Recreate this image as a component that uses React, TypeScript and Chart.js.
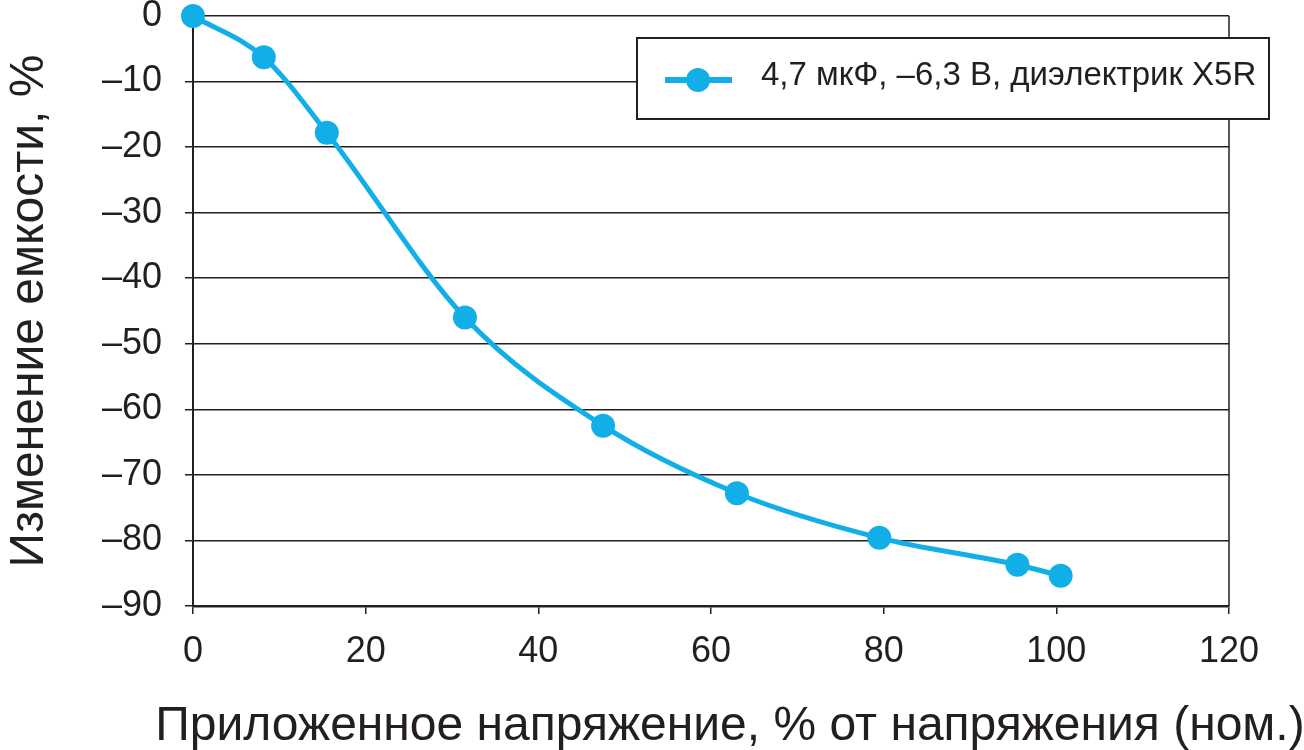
import React, { useEffect, useRef } from "react";
import { Chart, registerables } from "chart.js";

Chart.register(...registerables);

const voltagePct = [0, 8.2, 15.5, 31.5, 47.5, 63, 79.5, 95.5, 100.5];
const capChangePct = [0, -6.3, -17.8, -46, -62.5, -72.8, -79.6, -83.7, -85.4];
const seriesLabel = "4,7 мкФ, –6,3 В, диэлектрик X5R";
const xTitle = "Приложенное напряжение, % от напряжения (ном.)";
const yTitle = "Изменение емкости, %";

const FONT = "'Liberation Sans', Arial, sans-serif";
const INK = "#231f20";
const BLUE = "#12aee8";

const framePlugin = {
  id: "frameAndTitles",
  afterDraw(chart: any) {
    const { ctx, chartArea } = chart;
    ctx.save();
    // right frame line
    ctx.strokeStyle = INK;
    ctx.lineWidth = 1.5;
    ctx.beginPath();
    ctx.moveTo(chartArea.right, chartArea.top);
    ctx.lineTo(chartArea.right, chartArea.bottom);
    ctx.stroke();

    // axis titles
    ctx.fillStyle = INK;
    ctx.font = `48px ${FONT}`;
    ctx.textAlign = "center";
    ctx.textBaseline = "alphabetic";
    ctx.fillText(xTitle, 730, 740);

    ctx.save();
    ctx.translate(43, (chartArea.top + chartArea.bottom) / 2);
    ctx.rotate(-Math.PI / 2);
    ctx.font = `48px ${FONT}`;
    ctx.fillText(yTitle, 0, 0);
    ctx.restore();

    // legend box
    const bx = 637, by = 38, bw = 632, bh = 81;
    ctx.fillStyle = "#ffffff";
    ctx.fillRect(bx, by, bw, bh);
    ctx.strokeStyle = INK;
    ctx.lineWidth = 2;
    ctx.strokeRect(bx, by, bw, bh);
    const my = by + 42;
    ctx.strokeStyle = BLUE;
    ctx.lineWidth = 6;
    ctx.beginPath();
    ctx.moveTo(665, my);
    ctx.lineTo(732, my);
    ctx.stroke();
    ctx.fillStyle = BLUE;
    ctx.beginPath();
    ctx.arc(698, my, 12, 0, Math.PI * 2);
    ctx.fill();
    ctx.fillStyle = INK;
    ctx.font = `33px ${FONT}`;
    ctx.textAlign = "left";
    ctx.fillText(chart.data.datasets[0].label, 761, by + 47);
    ctx.restore();
  },
};

export default function App() {
  const ref = useRef<HTMLCanvasElement>(null);
  useEffect(() => {
    if (!ref.current) return;
    const chart = new Chart(ref.current, {
      type: "line",
      data: {
        datasets: [
          {
            label: seriesLabel,
            data: voltagePct.map((x, i) => ({ x, y: capChangePct[i] })),
            borderColor: BLUE,
            backgroundColor: BLUE,
            borderWidth: 5,
            pointRadius: 12,
            pointBorderWidth: 0,
            pointBackgroundColor: BLUE,
            cubicInterpolationMode: "monotone",
            clip: false,
          },
        ],
      },
      options: {
        animation: false,
        responsive: false,
        layout: { padding: { left: 0, top: 16, right: 75, bottom: 0 } },
        plugins: { legend: { display: false }, tooltip: { enabled: false } },
        scales: {
          x: {
            type: "linear",
            min: 0,
            max: 120,
            ticks: {
              stepSize: 20,
              color: INK,
              font: { family: FONT, size: 36 },
              padding: 16,
              maxRotation: 0,
            },
            grid: {
              drawOnChartArea: false,
              drawTicks: true,
              tickLength: 8,
              color: INK,
              lineWidth: 1.5,
            },
            border: { display: true, color: INK, width: 2.5 },
            afterFit: (s: any) => {
              s.height = 144;
            },
          },
          y: {
            type: "linear",
            min: -90,
            max: 0,
            ticks: {
              stepSize: 10,
              color: INK,
              font: { family: FONT, size: 36 },
              padding: 23,
              callback: (v: any) => (Number(v) < 0 ? "–" + Math.abs(Number(v)) : String(v)),
            },
            grid: {
              drawOnChartArea: true,
              drawTicks: true,
              tickLength: 8,
              color: INK,
              lineWidth: 1.5,
            },
            border: { display: true, color: INK, width: 2 },
            afterFit: (s: any) => {
              s.width = 193;
              s.paddingTop = 0;
              s.paddingBottom = 0;
            },
          },
        },
      },
      plugins: [framePlugin],
    });
    return () => chart.destroy();
  }, []);
  return (
    <div style={{ position: "fixed", left: 0, top: 0, width: 1304, height: 750, background: "#fff" }}>
      <canvas ref={ref} width={1304} height={750} style={{ display: "block" }} />
    </div>
  );
}
